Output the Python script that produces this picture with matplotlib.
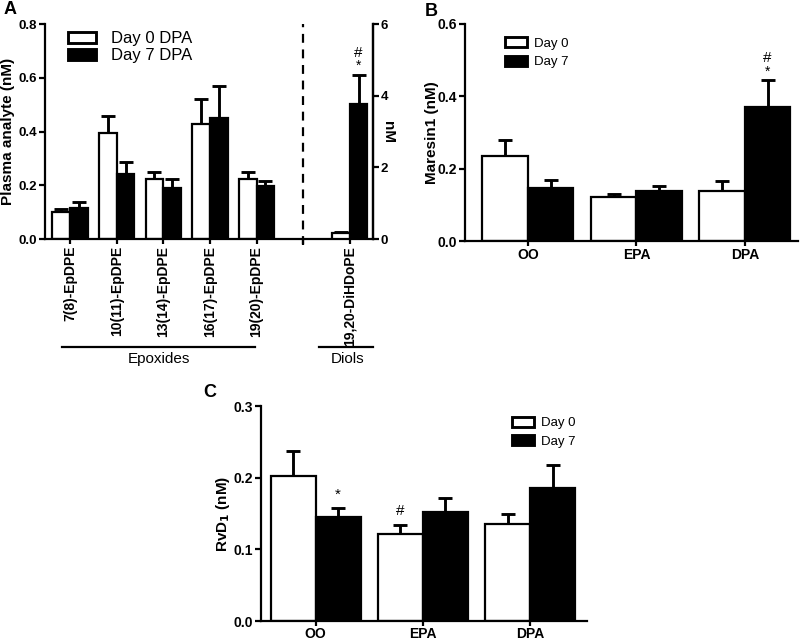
import matplotlib
matplotlib.use("Agg")
import matplotlib.pyplot as plt
import matplotlib.transforms as mtransforms
from matplotlib.patches import Patch
import numpy as np

plt.rcParams['font.family'] = ['Liberation Sans', 'DejaVu Sans']

# ---------------- Data ----------------
# Panel A
a_labels = ["7(8)-EpDPE", "10(11)-EpDPE", "13(14)-EpDPE", "16(17)-EpDPE", "19(20)-EpDPE"]
a_day0 = [0.099, 0.393, 0.222, 0.428, 0.222]
a_day0_sem = [0.013, 0.065, 0.026, 0.093, 0.029]
a_day7 = [0.114, 0.242, 0.191, 0.450, 0.197]
a_day7_sem = [0.022, 0.043, 0.032, 0.119, 0.019]
diol_label = "19,20-DiHDoPE"
diol_day0 = 0.18
diol_day0_sem = 0.03
diol_day7 = 3.76
diol_day7_sem = 0.82

# Panel B
b_cats = ["OO", "EPA", "DPA"]
b_day0 = [0.235, 0.122, 0.138]
b_day0_sem = [0.044, 0.009, 0.027]
b_day7 = [0.147, 0.138, 0.371]
b_day7_sem = [0.021, 0.015, 0.074]

# Panel C
c_cats = ["OO", "EPA", "DPA"]
c_day0 = [0.203, 0.122, 0.136]
c_day0_sem = [0.034, 0.012, 0.014]
c_day7 = [0.145, 0.152, 0.185]
c_day7_sem = [0.013, 0.020, 0.032]

LW = 1.6
TICKFS = 10
LABFS = 11


def bars(ax, x, vals, sems, color, width):
    x = np.atleast_1d(np.asarray(x, dtype=float))
    vals = np.atleast_1d(vals)
    sems = np.atleast_1d(sems)
    ax.errorbar(x, vals, yerr=[np.zeros_like(sems), sems], fmt='none',
                ecolor='black', elinewidth=LW * 1.3, capsize=5, capthick=LW * 1.3, zorder=1)
    ax.bar(x, vals, width=width, color=color, edgecolor='black', linewidth=LW, zorder=2)


def style(ax, right=False):
    ax.spines['top'].set_visible(False)
    if not right:
        ax.spines['right'].set_visible(False)
    for s in ax.spines.values():
        s.set_linewidth(LW)
    ax.tick_params(width=LW, length=4, labelsize=TICKFS, direction='out')
    ax.tick_params(axis='x', length=3.5, pad=1.5)
    ax.tick_params(axis='y', pad=1.5)
    for lab in ax.get_xticklabels() + ax.get_yticklabels():
        lab.set_fontweight('bold')


def legend(ax, labels, anchor, fs, hl, hh, ls, tp):
    ax.legend(handles=[Patch(facecolor='white', edgecolor='black', linewidth=LW * 1.3, label=labels[0]),
                       Patch(facecolor='black', edgecolor='black', linewidth=LW * 1.3, label=labels[1])],
              loc='upper left', bbox_to_anchor=anchor, frameon=False, fontsize=fs,
              borderpad=0, borderaxespad=0, handlelength=hl, handleheight=hh,
              labelspacing=ls, handletextpad=tp)


fig = plt.figure(figsize=(8, 6.41), dpi=100)

# ---------------- Panel A ----------------
axA = fig.add_axes([0.05625, 0.6271, 0.41, 0.3354])
w = 0.38
xa = np.arange(len(a_labels))
bars(axA, xa - w / 2, a_day0, a_day0_sem, 'white', w)
bars(axA, xa + w / 2, a_day7, a_day7_sem, 'black', w)
axA.set_xlim(-0.54, 6.5)
axA.set_ylim(0, 0.8)
axA.set_yticks([0, 0.2, 0.4, 0.6, 0.8])
axA.set_yticklabels(["0.0", "0.2", "0.4", "0.6", "0.8"])
axA.set_xticks(list(range(7)))
axA.set_xticklabels(a_labels + ["", diol_label], rotation=90, fontsize=9)
axA.set_ylabel("Plasma analyte (nM)", fontsize=LABFS, fontweight='bold')
axA.yaxis.set_label_coords(-0.092, 0.5)
axA.axvline(5, color='black', lw=LW, ls=(0, (4, 3)), ymin=-0.03, clip_on=False)
style(axA, right=True)
axA.tick_params(axis='y', labelsize=9.5)

axA2 = axA.twinx()
axA2.set_ylim(0, 6)
axA2.set_yticks([0, 2, 4, 6])
bars(axA2, [6 - w / 2], [diol_day0], [diol_day0_sem], 'white', w)
bars(axA2, [6 + w / 2], [diol_day7], [diol_day7_sem], 'black', w)
axA2.set_ylabel("nM", fontsize=LABFS, fontweight='bold', rotation=270, labelpad=5)
axA2.spines['top'].set_visible(False)
axA2.spines['left'].set_visible(False)
axA2.spines['bottom'].set_visible(False)
axA2.spines['right'].set_linewidth(LW)
axA2.tick_params(width=LW, length=4, labelsize=9.5, pad=1.5)
for lab in axA2.get_yticklabels():
    lab.set_fontweight('bold')
axA2.text(6 + w / 2, 5.2, "#", ha='center', va='center', fontsize=11)
axA2.text(6 + w / 2, 4.83, "*", ha='center', va='center', fontsize=10)

legend(axA, ['Day 0 DPA', 'Day 7 DPA'], (0.07, 0.968), 12, 1.7, 0.65, 0.12, 0.9)

trA = mtransforms.blended_transform_factory(axA.transData, axA.transAxes)
axA.plot([-0.17, 3.96], [-0.502, -0.502], color='black', lw=LW, transform=trA, clip_on=False)
axA.plot([5.35, 6.5], [-0.502, -0.502], color='black', lw=LW, transform=trA, clip_on=False)
axA.text(1.9, -0.557, "Epoxides", ha='center', va='center', fontsize=11, transform=trA)
axA.text(5.95, -0.557, "Diols", ha='center', va='center', fontsize=11, transform=trA)

fig.text(0.004, 0.985, "A", fontsize=13, fontweight='bold', ha='left', va='center')

# ---------------- Panel B ----------------
axB = fig.add_axes([0.58125, 0.6240, 0.41625, 0.3386])
wb = 0.42
xb = np.arange(len(b_cats))
bars(axB, xb - wb / 2, b_day0, b_day0_sem, 'white', wb)
bars(axB, xb + wb / 2, b_day7, b_day7_sem, 'black', wb)
axB.set_xlim(-0.58, 2.49)
axB.set_ylim(0, 0.6)
axB.set_yticks([0, 0.2, 0.4, 0.6])
axB.set_yticklabels(["0.0", "0.2", "0.4", "0.6"])
axB.set_xticks(xb)
axB.set_xticklabels(b_cats)
axB.set_ylabel("Maresin1 (nM)", fontsize=LABFS, fontweight='bold')
axB.yaxis.set_label_coords(-0.078, 0.5)
style(axB)
axB.text(2 + wb / 2, 0.507, "#", ha='center', va='center', fontsize=11)
axB.text(2 + wb / 2, 0.468, "*", ha='center', va='center', fontsize=10)
legend(axB, ['Day 0', 'Day 7'], (0.12, 0.94), 9.5, 1.7, 0.8, 0.45, 0.5)
fig.text(0.531, 0.982, "B", fontsize=13, fontweight='bold', ha='left', va='center')

# ---------------- Panel C ----------------
axC = fig.add_axes([0.32625, 0.0312, 0.4075, 0.3354])
wc = 0.42
xc = np.arange(len(c_cats))
bars(axC, xc - wc / 2, c_day0, c_day0_sem, 'white', wc)
bars(axC, xc + wc / 2, c_day7, c_day7_sem, 'black', wc)
axC.set_xlim(-0.51, 2.53)
axC.set_ylim(0, 0.3)
axC.set_yticks([0, 0.1, 0.2, 0.3])
axC.set_yticklabels(["0.0", "0.1", "0.2", "0.3"])
axC.set_xticks(xc)
axC.set_xticklabels(c_cats)
axC.set_ylabel("RvD$_\\mathbf{1}$ (nM)", fontsize=LABFS, fontweight='bold')
axC.yaxis.set_label_coords(-0.09, 0.5)
style(axC)
axC.tick_params(axis='x', pad=0.5)
axC.text(0 + wc / 2, 0.176, "*", ha='center', va='center', fontsize=11)
axC.text(1 - wc / 2, 0.153, "#", ha='center', va='center', fontsize=11)
legend(axC, ['Day 0', 'Day 7'], (0.77, 0.95), 9.5, 1.7, 0.8, 0.45, 0.5)
fig.text(0.254, 0.387, "C", fontsize=13, fontweight='bold', ha='left', va='center')

fig.savefig("out.png", dpi=100)
